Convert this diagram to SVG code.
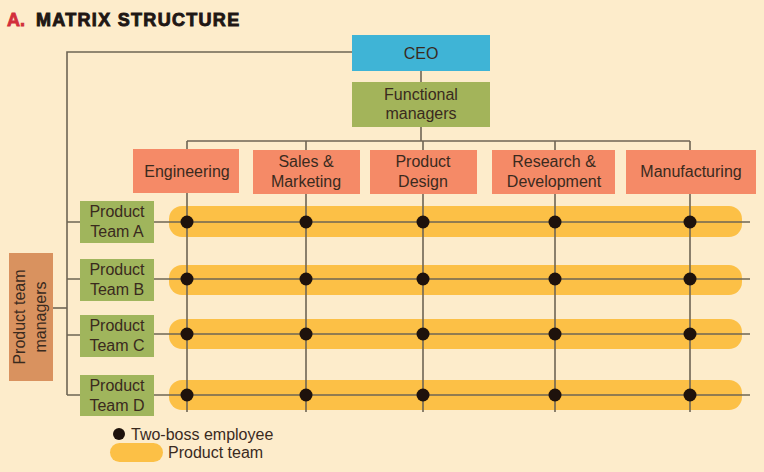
<svg xmlns="http://www.w3.org/2000/svg" width="764" height="472" viewBox="0 0 764 472">
<style>
text{font-family:"Liberation Sans",Arial,sans-serif;fill:#3a2a1e;font-size:16px}
.c{text-anchor:middle}
.ln{stroke:#6e6554;stroke-width:1.6;fill:none}
.fn{fill:#f58a67}
.pt{fill:#a0b55c}
.pill{fill:#fcc046}
.dot{fill:#1e120c}
</style>
<rect width="764" height="472" fill="#fdeccb"/>
<text x="7" y="26" style="font-size:18px;font-weight:bold;fill:#d22e3c;stroke:#d22e3c;stroke-width:0.8">A.</text>
<text x="36" y="26" style="font-size:18px;font-weight:bold;letter-spacing:1.3px;fill:#1f1714;stroke:#1f1714;stroke-width:0.9">MATRIX STRUCTURE</text>

<g id="pills">
<rect class="pill" x="169" y="206" width="573" height="31" rx="13"/>
<rect class="pill" x="169" y="265" width="573" height="30" rx="13"/>
<rect class="pill" x="169" y="319" width="573" height="30" rx="13"/>
<rect class="pill" x="169" y="380" width="573" height="30" rx="13"/>
</g>

<g id="connectors" class="ln">
<path d="M352 52 H67 V395"/>
<path d="M421 71 V82"/>
<path d="M421 127 V141"/>
<path d="M187 141 H690"/>
<path d="M187 141 V149 M306 141 V150 M423 141 V150 M555 141 V150 M690 141 V150"/>
<path d="M53 308 H67"/>
<path d="M67 222 H80 M67 279 H80 M67 335 H80 M67 395 H80"/>
<path d="M154 222 H750 M154 279 H750 M154 334 H750 M154 395 H750"/>
<path d="M187 193 V412 M306 194 V412 M423 194 V412 M555 194 V412 M690 194 V412"/>
</g>

<g id="ceo"><rect x="352" y="35" width="138" height="36" fill="#3fb4d6"/><text class="c" x="421" y="59">CEO</text></g>
<g id="functional-managers"><rect x="352" y="82" width="138" height="45" fill="#a3b45a"/><text class="c" x="421" y="100">Functional</text><text class="c" x="421" y="119">managers</text></g>

<g id="engineering"><rect class="fn" x="133" y="149" width="106" height="44"/><text class="c" x="187" y="177">Engineering</text></g>
<g id="sales-marketing"><rect class="fn" x="253" y="150" width="107" height="44"/><text class="c" x="306" y="167">Sales &amp;</text><text class="c" x="306" y="187">Marketing</text></g>
<g id="product-design"><rect class="fn" x="370" y="150" width="107" height="44"/><text class="c" x="423" y="167">Product</text><text class="c" x="423" y="187">Design</text></g>
<g id="research-development"><rect class="fn" x="492" y="150" width="123" height="44"/><text class="c" x="554" y="167">Research &amp;</text><text class="c" x="554" y="187">Development</text></g>
<g id="manufacturing"><rect class="fn" x="626" y="150" width="130" height="44"/><text class="c" x="691" y="177">Manufacturing</text></g>

<g id="product-team-managers"><rect x="9" y="253" width="44" height="128" fill="#d9925f"/>
<g transform="translate(31,317) rotate(-90)"><text class="c" x="0" y="-6">Product team</text><text class="c" x="0" y="15">managers</text></g></g>

<g id="team-a"><rect class="pt" x="80" y="201" width="74" height="42"/><text class="c" x="117" y="217">Product</text><text class="c" x="117" y="237">Team A</text></g>
<g id="team-b"><rect class="pt" x="80" y="259" width="74" height="42"/><text class="c" x="117" y="275">Product</text><text class="c" x="117" y="295">Team B</text></g>
<g id="team-c"><rect class="pt" x="80" y="315" width="74" height="42"/><text class="c" x="117" y="331">Product</text><text class="c" x="117" y="351">Team C</text></g>
<g id="team-d"><rect class="pt" x="80" y="375" width="74" height="41"/><text class="c" x="117" y="391">Product</text><text class="c" x="117" y="411">Team D</text></g>

<g id="two-boss-employees">
<circle class="dot" cx="187" cy="222" r="6.5"/><circle class="dot" cx="306" cy="222" r="6.5"/><circle class="dot" cx="423" cy="222" r="6.5"/><circle class="dot" cx="555" cy="222" r="6.5"/><circle class="dot" cx="690" cy="222" r="6.5"/>
<circle class="dot" cx="187" cy="279" r="6.5"/><circle class="dot" cx="306" cy="279" r="6.5"/><circle class="dot" cx="423" cy="279" r="6.5"/><circle class="dot" cx="555" cy="279" r="6.5"/><circle class="dot" cx="690" cy="279" r="6.5"/>
<circle class="dot" cx="187" cy="334" r="6.5"/><circle class="dot" cx="306" cy="334" r="6.5"/><circle class="dot" cx="423" cy="334" r="6.5"/><circle class="dot" cx="555" cy="334" r="6.5"/><circle class="dot" cx="690" cy="334" r="6.5"/>
<circle class="dot" cx="187" cy="395" r="6.5"/><circle class="dot" cx="306" cy="395" r="6.5"/><circle class="dot" cx="423" cy="395" r="6.5"/><circle class="dot" cx="555" cy="395" r="6.5"/><circle class="dot" cx="690" cy="395" r="6.5"/>
</g>

<g id="legend">
<circle class="dot" cx="119" cy="434" r="6"/><text x="131" y="440">Two-boss employee</text>
<rect class="pill" x="110" y="443" width="53" height="19" rx="9.5"/><text x="168" y="458">Product team</text>
</g>
</svg>
